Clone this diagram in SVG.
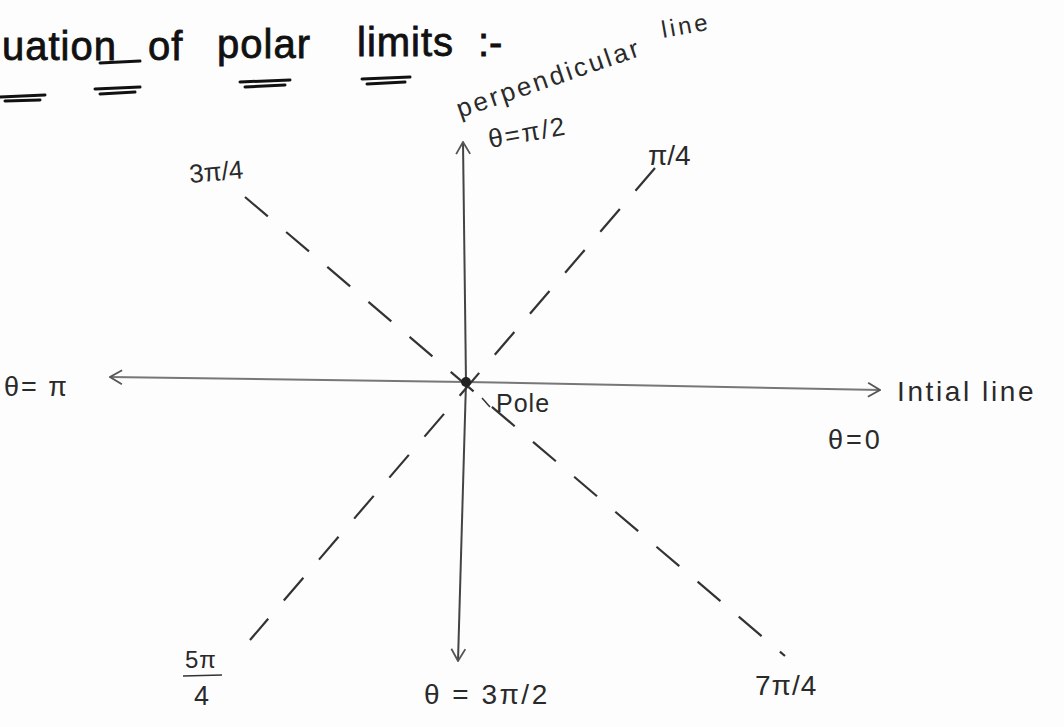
<svg xmlns="http://www.w3.org/2000/svg" width="1064" height="727" viewBox="0 0 1064 727">
<style>
.t{font-family:"Liberation Sans","DejaVu Sans",sans-serif;fill:#2a2a2a}
.title{font-family:"Liberation Sans",sans-serif;font-size:40px;fill:#111;stroke:#111;stroke-width:0.8}
.ul{stroke:#111;stroke-width:3;stroke-linecap:round;fill:none}
.dash{stroke:#333;stroke-width:2.2;stroke-dasharray:30 24;fill:none}
</style>
<defs>
<marker id="chev" viewBox="0 0 14 16" refX="13" refY="8" markerWidth="14" markerHeight="16" markerUnits="userSpaceOnUse" orient="auto">
<path d="M1,1 L13,8 L1,15" fill="none" stroke="#555" stroke-width="1.8"/>
</marker>
</defs>
<rect width="1064" height="727" fill="#fdfdfd"/>
<g id="title">
<text class="title" x="2" y="60" letter-spacing="1">uation</text>
<text class="title" x="148" y="60" letter-spacing="1">of</text>
<text class="title" x="217" y="58" letter-spacing="1">polar</text>
<text class="title" x="357" y="56" letter-spacing="1">limits</text>
<text class="title" x="478" y="56">:-</text>
<line class="ul" x1="100" y1="63" x2="140" y2="61"/>
<path class="ul" d="M0,97 L45,95 M5,101 L40,100"/>
<path class="ul" d="M95,89 L140,87 M100,94 L135,92"/>
<path class="ul" d="M240,82 L290,80 M245,87 L285,85"/>
<path class="ul" d="M362,79 L410,77 M367,84 L405,82"/>
</g>
<g id="connectors">
<line x1="466" y1="382" x2="880" y2="390" stroke="#777" stroke-width="2" marker-end="url(#chev)"/>
<line x1="466" y1="382" x2="110" y2="377" stroke="#777" stroke-width="2" marker-end="url(#chev)"/>
<line x1="466" y1="382" x2="463" y2="142" stroke="#444" stroke-width="2" marker-end="url(#chev)"/>
<line x1="466" y1="382" x2="458" y2="661" stroke="#444" stroke-width="2" marker-end="url(#chev)"/>
<line class="dash" x1="245" y1="197" x2="785" y2="656"/>
<line class="dash" x1="655" y1="168" x2="250" y2="640"/>
<line x1="482" y1="398" x2="490" y2="407" stroke="#333" stroke-width="1.5"/>
</g>
<g id="pole"><circle cx="466" cy="382" r="5" fill="#222"/></g>
<g id="label-pole"><text class="t" x="496" y="412" font-size="25" letter-spacing="1">Pole</text></g>
<g id="label-perpendicular">
<text class="t" x="460" y="118" font-size="26" letter-spacing="2.8" transform="rotate(-19 460 118)">perpendicular</text>
<text class="t" x="663" y="38" font-size="24" letter-spacing="3" transform="rotate(-10 663 38)">line</text>
</g>
<g id="label-pi2"><text class="t" x="490" y="148" font-size="26" letter-spacing="2" transform="rotate(-10 490 148)">θ=π/2</text></g>
<g id="label-pi4"><text class="t" x="648" y="165" font-size="28">π/4</text></g>
<g id="label-3pi4"><text class="t" x="190" y="183" font-size="26" transform="rotate(-5 190 183)">3π/4</text></g>
<g id="label-pi"><text class="t" x="4" y="396" font-size="27" letter-spacing="2">θ= π</text></g>
<g id="label-initial">
<text class="t" x="897" y="401" font-size="28" letter-spacing="2.6">Intial line</text>
</g>
<g id="label-0"><text class="t" x="828" y="449" font-size="27" letter-spacing="3">θ=0</text></g>
<g id="label-5pi4">
<text class="t" x="185" y="668" font-size="24" letter-spacing="1">5π</text>
<line x1="183" y1="676" x2="222" y2="675" stroke="#333" stroke-width="1.5"/>
<text class="t" x="194" y="705" font-size="27">4</text>
</g>
<g id="label-3pi2"><text class="t" x="424" y="704" font-size="28" letter-spacing="2.5">θ = 3π/2</text></g>
<g id="label-7pi4"><text class="t" x="755" y="695" font-size="28" letter-spacing="1">7π/4</text></g>
</svg>
